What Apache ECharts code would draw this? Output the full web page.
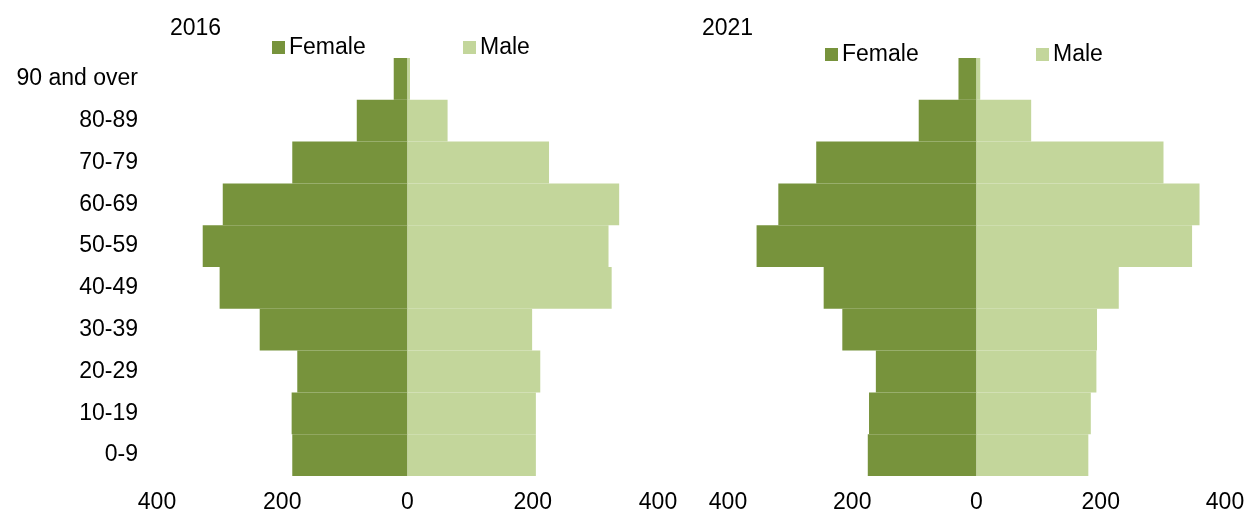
<!DOCTYPE html>
<html>
<head>
<meta charset="utf-8">
<script src="https://cdn.jsdelivr.net/npm/echarts@6/dist/echarts.min.js"></script>
<style>
html,body{margin:0;padding:0;background:#fff;}
#c{width:1248px;height:515px;}
</style>
</head>
<body>
<div id="c"></div>
<script>
// Age groups, top to bottom
var categories = ['90 and over','80-89','70-79','60-69','50-59','40-49','30-39','20-29','10-19','0-9'];
var female2016 = [22, 81, 184, 295, 327, 300, 236, 176, 185, 184];
var male2016   = [4, 64, 226, 338, 321, 326, 199, 212, 205, 205];
var female2021 = [29, 93, 258, 319, 354, 246, 216, 162, 173, 175];
var male2021   = [6, 88, 301, 359, 347, 229, 194, 193, 184, 180];
var xTicks = [-400, -200, 0, 200, 400];
var titles = ['2016', '2021'];

var FEMALE = '#77933C';
var MALE = '#C3D69B';
var FONT = 'Liberation Sans, Arial, sans-serif';
var FS = 23;

function neg(a){ return a.map(function(v){ return -v; }); }

var chart = echarts.init(document.getElementById('c'), null, {renderer:'canvas'});

var xAxisBase = function(idx){
  return {
    type:'value', gridIndex: idx,
    min: xTicks[0], max: xTicks[xTicks.length-1], interval: 200,
    axisLine:{show:false}, axisTick:{show:false}, splitLine:{show:false},
    axisLabel:{
      color:'#000', fontFamily:FONT, fontSize:FS, margin:15,
      formatter:function(v){ return String(Math.abs(v)); }
    }
  };
};
var yAxisBase = function(idx, showLabels){
  return {
    type:'category', gridIndex: idx, data: categories, inverse:true,
    axisLine:{show:false}, axisTick:{show:false}, splitLine:{show:false},
    axisLabel:{show:showLabels, color:'#000', fontFamily:FONT, fontSize:FS, margin:19}
  };
};
var legendItem = function(name, left, top){
  return {data:[name], left:left, top:top, padding:0, icon:'rect', itemWidth:13, itemHeight:13,
    textStyle:{fontFamily:FONT, fontSize:FS, color:'#000', padding:[0,0,0,-1]}};
};

var option = {
  animation:false,
  backgroundColor:'#fff',
  title:[
    {text:titles[0], left:170, top:17, padding:0, textStyle:{fontFamily:FONT, fontSize:FS, fontWeight:'normal', color:'#000'}},
    {text:titles[1], left:702, top:17, padding:0, textStyle:{fontFamily:FONT, fontSize:FS, fontWeight:'normal', color:'#000'}}
  ],
  legend:[
    legendItem('Female', 272, 36),
    legendItem('Male', 463, 36),
    legendItem('Female', 825, 43),
    legendItem('Male', 1036, 43)
  ],
  grid:[
    {left:157, width:501, top:58, height:418},
    {left:728, width:497, top:58, height:418}
  ],
  xAxis:[xAxisBase(0), xAxisBase(1)],
  yAxis:[yAxisBase(0, true), yAxisBase(1, false)],
  series:[
    {name:'Female', type:'bar', xAxisIndex:0, yAxisIndex:0, stack:'a', data:neg(female2016),
      itemStyle:{color:FEMALE}, barCategoryGap:'0%', barGap:'0%'},
    {name:'Male', type:'bar', xAxisIndex:0, yAxisIndex:0, stack:'a', data:male2016,
      itemStyle:{color:MALE}, barCategoryGap:'0%', barGap:'0%'},
    {name:'Female', type:'bar', xAxisIndex:1, yAxisIndex:1, stack:'b', data:neg(female2021),
      itemStyle:{color:FEMALE}, barCategoryGap:'0%', barGap:'0%'},
    {name:'Male', type:'bar', xAxisIndex:1, yAxisIndex:1, stack:'b', data:male2021,
      itemStyle:{color:MALE}, barCategoryGap:'0%', barGap:'0%'}
  ]
};
chart.setOption(option);
</script>
</body>
</html>
